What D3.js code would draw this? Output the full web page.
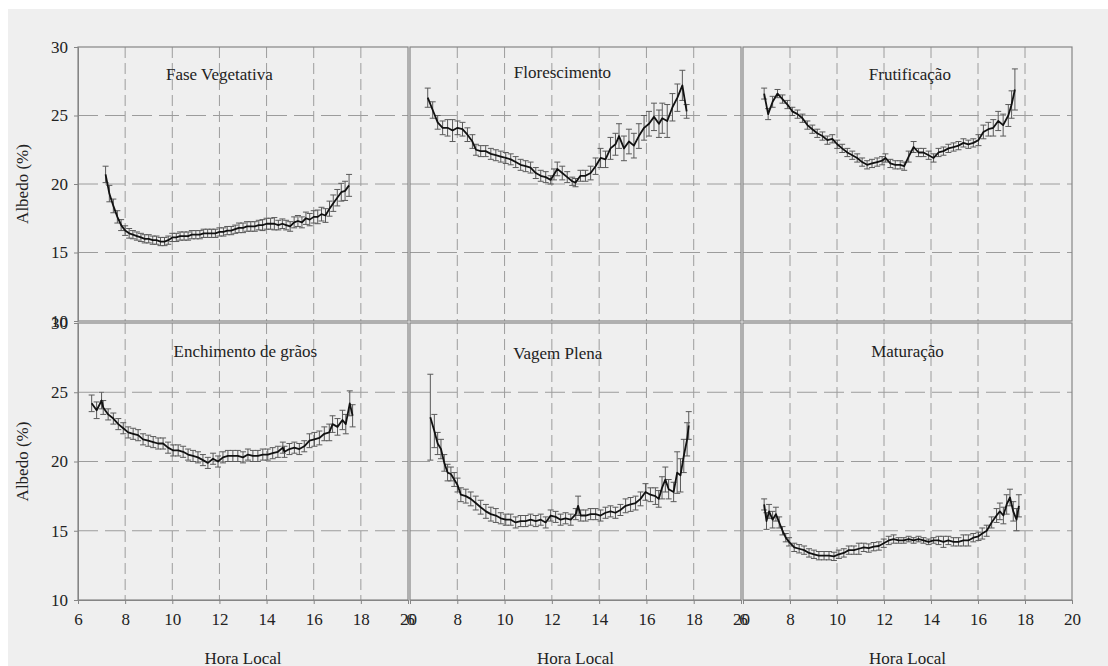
<!DOCTYPE html>
<html><head><meta charset="utf-8">
<script src="https://cdn.jsdelivr.net/npm/d3@7"></script>
<style>
html,body{margin:0;padding:0;background:#fff;}
svg{display:block;}
text{font-family:"Liberation Serif","Times New Roman",serif;fill:#222;}
</style></head>
<body>
<svg id="chart" width="1108" height="666"></svg>
<script>
// ---- data: [hora local, albedo (%), desvio] ----
const faseVegetativa = [[7.17,20.7,0.6],[7.33,19.3,0.6],[7.5,18.4,0.5],[7.67,17.6,0.45],[7.83,17.0,0.4],[8,16.6,0.35],[8.17,16.4,0.35],[8.33,16.3,0.3],[8.5,16.2,0.3],[8.67,16.1,0.3],[8.83,16.0,0.3],[9,16.0,0.3],[9.17,15.9,0.3],[9.33,15.9,0.3],[9.5,15.8,0.3],[9.67,15.8,0.3],[9.83,15.9,0.3],[10,16.1,0.3],[10.17,16.1,0.3],[10.33,16.2,0.3],[10.5,16.2,0.3],[10.67,16.2,0.3],[10.83,16.3,0.3],[11,16.3,0.3],[11.17,16.3,0.3],[11.33,16.4,0.3],[11.5,16.4,0.3],[11.67,16.4,0.3],[11.83,16.4,0.3],[12,16.5,0.3],[12.17,16.5,0.3],[12.33,16.6,0.3],[12.5,16.6,0.3],[12.67,16.7,0.3],[12.83,16.8,0.35],[13,16.8,0.35],[13.17,16.9,0.35],[13.33,16.9,0.35],[13.5,16.9,0.35],[13.67,17.0,0.35],[13.83,17.0,0.4],[14,17.1,0.4],[14.17,17.1,0.4],[14.33,17.1,0.45],[14.5,17.0,0.35],[14.67,17.1,0.35],[14.83,17.0,0.35],[15,16.9,0.35],[15.17,17.2,0.4],[15.33,17.3,0.4],[15.5,17.2,0.4],[15.67,17.5,0.45],[15.83,17.4,0.45],[16,17.6,0.45],[16.17,17.6,0.5],[16.33,17.8,0.5],[16.5,17.7,0.5],[16.67,18.2,0.55],[16.83,18.6,0.6],[17,19.0,0.6],[17.17,19.4,0.65],[17.33,19.5,0.7],[17.5,19.9,0.8]];
const florescimento = [[6.75,26.3,0.7],[6.96,25.4,0.6],[7.17,24.5,0.5],[7.38,24.1,0.5],[7.59,24.1,0.6],[7.8,23.9,0.8],[8.01,24.1,0.5],[8.22,24.0,0.5],[8.43,23.6,0.5],[8.64,23.1,0.5],[8.79,22.5,0.4],[8.99,22.4,0.4],[9.2,22.4,0.4],[9.42,22.2,0.4],[9.63,22.1,0.4],[9.84,22.0,0.4],[10.05,21.9,0.4],[10.26,21.8,0.4],[10.47,21.6,0.4],[10.68,21.4,0.4],[10.89,21.3,0.4],[11.1,21.2,0.4],[11.32,20.8,0.4],[11.53,20.6,0.4],[11.74,20.5,0.4],[11.95,20.3,0.3],[12.09,20.7,0.4],[12.23,21.1,0.5],[12.44,20.8,0.5],[12.65,20.5,0.4],[12.86,20.2,0.3],[13.0,20.1,0.3],[13.21,20.6,0.4],[13.42,20.6,0.4],[13.64,20.8,0.5],[13.85,21.3,0.6],[14.06,21.9,0.7],[14.27,21.8,0.6],[14.48,22.6,0.8],[14.69,22.9,0.8],[14.84,23.5,0.9],[15.05,22.6,0.9],[15.26,23.1,0.9],[15.47,22.8,0.9],[15.68,23.5,0.9],[15.9,24.1,0.9],[16.11,24.4,0.9],[16.32,24.9,1.0],[16.53,24.4,1.0],[16.67,24.8,1.1],[16.88,24.6,1.2],[17.1,25.6,1.0],[17.31,26.3,1.0],[17.52,27.2,1.1],[17.7,25.3,0.5]];
const frutificacao = [[6.9,26.6,0.4],[7.07,25.1,0.4],[7.26,26.0,0.4],[7.47,26.6,0.3],[7.68,26.2,0.3],[7.89,25.8,0.3],[8.1,25.3,0.3],[8.32,25.1,0.3],[8.53,24.8,0.3],[8.74,24.3,0.3],[8.95,24.0,0.3],[9.16,23.7,0.3],[9.38,23.5,0.3],[9.59,23.2,0.3],[9.8,23.3,0.3],[10.01,22.9,0.3],[10.22,22.6,0.3],[10.44,22.3,0.3],[10.65,22.1,0.3],[10.86,21.9,0.3],[11.07,21.6,0.3],[11.28,21.4,0.3],[11.49,21.5,0.3],[11.71,21.6,0.3],[11.92,21.7,0.3],[12.06,21.9,0.3],[12.27,21.5,0.3],[12.48,21.4,0.3],[12.69,21.4,0.3],[12.86,21.3,0.3],[13.05,22.0,0.4],[13.26,22.7,0.4],[13.47,22.3,0.3],[13.68,22.3,0.3],[13.9,22.1,0.3],[14.11,21.9,0.3],[14.32,22.3,0.3],[14.53,22.4,0.3],[14.74,22.6,0.3],[14.96,22.7,0.3],[15.17,22.8,0.3],[15.38,23.0,0.3],[15.59,22.9,0.3],[15.8,23.0,0.3],[16.02,23.2,0.4],[16.23,23.8,0.5],[16.44,24.0,0.5],[16.65,24.1,0.6],[16.86,24.6,0.7],[17.07,24.3,0.8],[17.29,25.0,0.8],[17.43,25.8,1.0],[17.57,26.9,1.5]];
const enchimentoGraos = [[6.58,24.2,0.6],[6.79,23.7,0.6],[7.0,24.4,0.6],[7.07,23.9,0.5],[7.28,23.4,0.4],[7.5,23.1,0.4],[7.71,22.7,0.4],[7.92,22.4,0.4],[8.13,22.1,0.4],[8.34,22.0,0.4],[8.55,21.9,0.4],[8.76,21.6,0.4],[8.98,21.5,0.4],[9.19,21.4,0.4],[9.4,21.3,0.4],[9.61,21.3,0.4],[9.82,21.0,0.4],[10.04,20.8,0.4],[10.25,20.8,0.4],[10.46,20.7,0.4],[10.67,20.5,0.4],[10.88,20.4,0.4],[11.09,20.3,0.4],[11.3,20.1,0.4],[11.51,19.9,0.4],[11.73,20.2,0.4],[11.94,20.0,0.4],[12.15,20.3,0.4],[12.36,20.4,0.4],[12.57,20.4,0.4],[12.78,20.4,0.4],[13.0,20.3,0.4],[13.21,20.5,0.4],[13.42,20.4,0.4],[13.63,20.4,0.4],[13.84,20.5,0.4],[14.05,20.5,0.4],[14.26,20.6,0.4],[14.48,20.7,0.4],[14.69,21.0,0.4],[14.76,20.7,0.4],[14.97,20.9,0.4],[15.18,21.0,0.4],[15.39,20.9,0.4],[15.6,21.1,0.4],[15.82,21.5,0.5],[16.03,21.6,0.5],[16.24,21.7,0.5],[16.45,22.0,0.5],[16.66,22.1,0.6],[16.8,22.7,0.6],[17.01,22.5,0.6],[17.22,23.0,0.7],[17.36,22.7,0.7],[17.53,24.2,0.9],[17.65,23.3,0.8]];
const vagemPlena = [[6.86,23.2,3.1],[7.03,22.2,1.2],[7.17,21.3,0.8],[7.31,20.9,0.7],[7.45,19.9,0.6],[7.59,19.2,0.6],[7.73,19.1,0.5],[7.87,18.7,0.5],[8.01,18.3,0.5],[8.15,17.6,0.5],[8.36,17.5,0.5],[8.57,17.3,0.5],[8.78,17.0,0.5],[8.99,16.7,0.5],[9.21,16.4,0.5],[9.42,16.2,0.5],[9.63,16.1,0.5],[9.84,15.9,0.4],[10.05,15.8,0.4],[10.26,15.8,0.4],[10.47,15.6,0.4],[10.68,15.7,0.4],[10.89,15.7,0.4],[11.1,15.8,0.4],[11.32,15.7,0.4],[11.53,15.8,0.4],[11.74,15.6,0.4],[11.95,16.1,0.4],[12.16,16.0,0.4],[12.37,15.8,0.4],[12.58,15.9,0.4],[12.8,15.8,0.4],[13.01,16.2,0.4],[13.11,16.8,0.7],[13.22,16.1,0.4],[13.43,16.1,0.4],[13.64,16.2,0.4],[13.85,16.2,0.4],[14.06,16.1,0.4],[14.27,16.3,0.4],[14.48,16.4,0.4],[14.69,16.3,0.4],[14.9,16.5,0.4],[15.12,16.8,0.5],[15.33,16.9,0.5],[15.54,17.0,0.5],[15.75,17.3,0.5],[15.96,17.8,0.6],[16.17,17.6,0.5],[16.38,17.5,0.6],[16.52,17.3,0.6],[16.66,18.1,0.8],[16.8,18.7,0.9],[16.94,18.0,0.7],[17.15,17.8,0.7],[17.3,19.2,1.5],[17.44,19.0,1.2],[17.58,20.4,1.2],[17.72,21.6,1.2],[17.79,22.6,1.0]];
const maturacao = [[6.9,16.9,0.4],[7.0,15.7,0.6],[7.11,16.4,0.5],[7.26,15.8,0.6],[7.4,16.2,0.5],[7.54,15.6,0.4],[7.68,15.0,0.3],[7.82,14.5,0.3],[7.96,14.2,0.3],[8.18,13.8,0.3],[8.39,13.7,0.3],[8.6,13.6,0.3],[8.81,13.4,0.3],[9.02,13.3,0.3],[9.23,13.2,0.3],[9.45,13.2,0.3],[9.66,13.2,0.3],[9.87,13.15,0.3],[10.08,13.3,0.3],[10.29,13.4,0.3],[10.5,13.6,0.3],[10.72,13.6,0.3],[10.93,13.7,0.4],[11.14,13.8,0.3],[11.35,13.75,0.3],[11.56,13.85,0.3],[11.78,13.9,0.3],[11.99,14.1,0.3],[12.2,14.3,0.3],[12.41,14.4,0.3],[12.62,14.3,0.2],[12.84,14.3,0.2],[13.05,14.4,0.2],[13.26,14.3,0.2],[13.47,14.4,0.2],[13.68,14.3,0.2],[13.9,14.2,0.2],[14.11,14.3,0.2],[14.32,14.3,0.3],[14.53,14.2,0.4],[14.74,14.3,0.3],[14.96,14.2,0.3],[15.17,14.2,0.3],[15.38,14.3,0.4],[15.59,14.3,0.4],[15.8,14.5,0.3],[16.02,14.6,0.3],[16.18,14.8,0.4],[16.37,15.0,0.4],[16.58,15.6,0.4],[16.79,16.1,0.5],[16.93,16.4,0.6],[17.08,16.1,0.6],[17.22,16.9,0.7],[17.36,17.4,0.6],[17.5,16.4,0.7],[17.64,15.8,0.8],[17.74,16.8,0.8]];

const panelTitles = ["Fase Vegetativa","Florescimento","Frutificação","Enchimento de grãos","Vagem Plena","Maturação"];
const panelSeries = [faseVegetativa, florescimento, frutificacao, enchimentoGraos, vagemPlena, maturacao];
const xTicks = [6,8,10,12,14,16,18,20];
const yTicks = [10,15,20,25,30];
const xDomain = [6,20];
const yDomain = [10,30];
const xTitle = "Hora Local";
const yTitle = "Albedo (%)";

// ---- layout ----
const svg = d3.select("#chart");
svg.append("rect").attr("x",8).attr("y",9).attr("width",1100).attr("height",657).attr("fill","#efefef");

const cols = [[78,408],[410,741],[743,1072]];
const rows = [[47,321],[323,600]];
const titlePos = [[12.0,28],[12.45,28.2],[13.1,28.0],[13.1,28.0],[12.25,27.8],[13.0,28.0]];
const gridCol = "#9c9c9c", frameCol = "#858585";

panelSeries.forEach((data, i) => {
  const r = Math.floor(i/3), c = i%3;
  const x = d3.scaleLinear().domain(xDomain).range(cols[c]);
  const y = d3.scaleLinear().domain(yDomain).range([rows[r][1], rows[r][0]]);
  const g = svg.append("g");

  // grid
  g.selectAll(".vg").data(xTicks.slice(1,-1)).join("line")
    .attr("x1",d=>x(d)).attr("x2",d=>x(d)).attr("y1",y(30)).attr("y2",y(10))
    .attr("stroke",gridCol).attr("stroke-width",1).attr("stroke-dasharray","11,5");
  g.selectAll(".hg").data(yTicks.slice(1,-1)).join("line")
    .attr("x1",x(6)).attr("x2",x(20)).attr("y1",d=>y(d)).attr("y2",d=>y(d))
    .attr("stroke",gridCol).attr("stroke-width",1).attr("stroke-dasharray","20,7");

  // frame
  g.append("rect").attr("x",x(6)).attr("y",y(30)).attr("width",x(20)-x(6)).attr("height",y(10)-y(30))
    .attr("fill","none").attr("stroke",frameCol).attr("stroke-width",1.2);

  // axes
  if (c === 0) {
    const ay = g.append("g").attr("transform",`translate(${x(6)},0)`)
      .call(d3.axisLeft(y).tickValues(yTicks).tickSize(4).tickPadding(6).tickFormat(d3.format("d")));
    ay.select(".domain").attr("stroke",frameCol);
    ay.selectAll(".tick line").attr("stroke",frameCol);
    ay.selectAll("text").attr("font-size",17).attr("font-family","Liberation Serif").attr("fill","#222");
    g.append("text").attr("transform",`translate(28,${(rows[r][0]+rows[r][1])/2}) rotate(-90)`)
      .attr("text-anchor","middle").attr("font-size",17).text(yTitle);
  }
  if (r === 1) {
    const ax = g.append("g").attr("transform",`translate(0,${y(10)})`)
      .call(d3.axisBottom(x).tickValues(xTicks).tickSize(4).tickPadding(9).tickFormat(d3.format("d")));
    ax.select(".domain").attr("stroke",frameCol);
    ax.selectAll(".tick line").attr("stroke",frameCol);
    ax.selectAll("text").attr("font-size",17).attr("font-family","Liberation Serif").attr("fill","#222");
    g.append("text").attr("x",(cols[c][0]+cols[c][1])/2).attr("y",664)
      .attr("text-anchor","middle").attr("font-size",17).text(xTitle);
  }

  // title
  g.append("text").attr("x",x(titlePos[i][0])).attr("y",y(titlePos[i][1])+6)
    .attr("text-anchor","middle").attr("font-size",17).text(panelTitles[i]);

  // error bars
  const eb = g.append("g").attr("stroke","#5a5a5a").attr("stroke-width",1);
  eb.selectAll(".ev").data(data).join("line")
    .attr("x1",d=>x(d[0])).attr("x2",d=>x(d[0]))
    .attr("y1",d=>y(d[1]-d[2])).attr("y2",d=>y(d[1]+d[2]));
  eb.selectAll(".et").data(data).join("line")
    .attr("x1",d=>x(d[0])-3).attr("x2",d=>x(d[0])+3)
    .attr("y1",d=>y(d[1]+d[2])).attr("y2",d=>y(d[1]+d[2]));
  eb.selectAll(".eb").data(data).join("line")
    .attr("x1",d=>x(d[0])-3).attr("x2",d=>x(d[0])+3)
    .attr("y1",d=>y(d[1]-d[2])).attr("y2",d=>y(d[1]-d[2]));

  // line
  g.append("path").datum(data)
    .attr("fill","none").attr("stroke","#111").attr("stroke-width",1.8).attr("stroke-linejoin","round")
    .attr("d", d3.line().x(d=>x(d[0])).y(d=>y(d[1])));
});
</script>
</body></html>
